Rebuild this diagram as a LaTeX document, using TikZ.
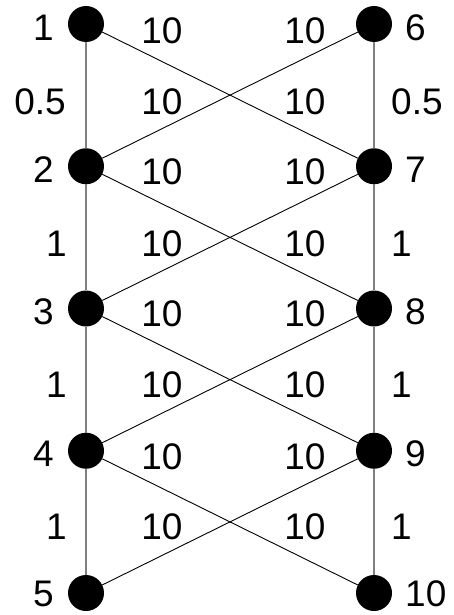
\documentclass[tikz,border=0pt]{standalone}
\usepackage{fontspec}
\setmainfont{Liberation Sans}
\begin{document}
\begin{tikzpicture}[x=1pt,y=-1pt,
  vert/.style={draw=black!50, line width=1.3pt},
  cross/.style={draw=black, line width=0.9pt},
  dot/.style={circle, fill=black, minimum size=36pt, inner sep=0pt},
  lab/.style={inner sep=0pt, font=\fontsize{37}{42}\selectfont}]
\useasboundingbox (0,0) rectangle (454,615);
% nodes
\foreach \i/\y in {1/24,2/166.25,3/308.5,4/450.75,5/593}{
  \node[dot] (n\i) at (86,\y) {};
}
\foreach \i/\y in {6/24,7/166.25,8/308.5,9/450.75,10/593}{
  \node[dot] (n\i) at (374,\y) {};
}
% edges
\draw[vert] (n1) -- (n2) -- (n3) -- (n4) -- (n5);
\draw[vert] (n6) -- (n7) -- (n8) -- (n9) -- (n10);
\draw[cross] (n1) -- (n7);
\draw[cross] (n2) -- (n6);
\draw[cross] (n2) -- (n8);
\draw[cross] (n3) -- (n7);
\draw[cross] (n3) -- (n9);
\draw[cross] (n4) -- (n8);
\draw[cross] (n4) -- (n10);
\draw[cross] (n5) -- (n9);
% node labels
\foreach \i/\y in {1/28,2/170,3/312,4/454,5/593.5}{
  \node[lab, anchor=east] (l\i) at (54,\y) {\i};
}
\foreach \i/\y in {6/28,7/170,8/312,9/454,10/593.5}{
  \node[lab, anchor=west] (l\i) at (405,\y) {\i};
}
% vertical edge labels
\node[lab, anchor=east] (va) at (66,102) {0.5};
\node[lab, anchor=west] (vb) at (391,102) {0.5};
\foreach \k/\y in {c/244,d/385,e/527}{
  \node[lab, anchor=east] (v\k l) at (67,\y) {1};
  \node[lab, anchor=west] (v\k r) at (391,\y) {1};
}
% crossing edge labels
\foreach \k/\y in {1/31,2/102,3/172,4/244,5/314,6/385,7/457,8/527}{
  \node[lab] (cl\k) at (162,\y) {10};
  \node[lab] (cr\k) at (305,\y) {10};
}
\end{tikzpicture}
\end{document}
